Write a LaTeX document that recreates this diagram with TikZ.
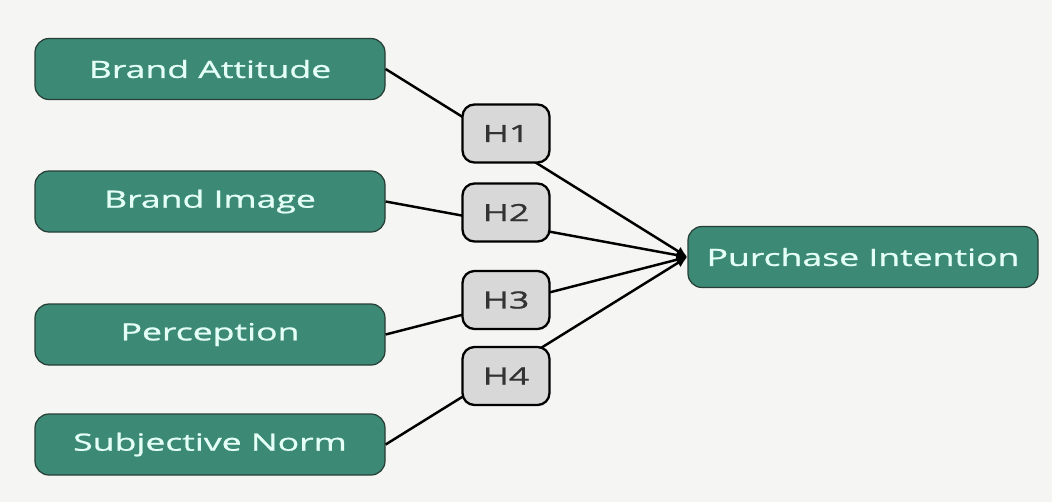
\documentclass[tikz,border=0pt]{standalone}
\usepackage{fontspec}
\setmainfont[FakeStretch=1.5,FakeBold=1]{Open Sans}
\usetikzlibrary{arrows.meta}
\definecolor{boxgreen}{RGB}{60,137,117}
\definecolor{boxedge}{RGB}{38,62,54}
\definecolor{boxtext}{RGB}{228,255,246}
\definecolor{hypgrey}{RGB}{216,216,216}
\definecolor{bgcol}{RGB}{245,246,243}

\begin{document}
\begin{tikzpicture}[
  factor/.style={draw=boxedge, line width=0.7pt, fill=boxgreen, rounded corners=0.28cm,
    minimum width=7cm, minimum height=1.22cm, text=boxtext, font=\fontsize{13.5}{15}\selectfont},
  hyp/.style={draw=black, line width=1.3pt, fill=hypgrey, rounded corners=0.24cm,
    minimum width=1.74cm, minimum height=1.16cm, text=black!80, font=\fontsize{13.5}{15}\selectfont},
  link/.style={line width=1.4pt, -{Latex[length=2.2mm,width=2mm]}}
]

% Canvas
\fill[bgcol] (0,0) rectangle (21.04,-10.04);
\useasboundingbox (0,0) rectangle (21.04,-10.04);

% Nodes
\node[factor] (v0) at (4.2,-1.38) {Brand Attitude};
\node[factor] (v1) at (4.2,-4.03) {Brand Image};
\node[factor] (v2) at (4.2,-6.69) {Perception};
\node[factor] (v3) at (4.2,-8.89) {Subjective Norm};
\node[factor] (v4) at (17.26,-5.14) {Purchase Intention};

% Arrows
\draw[link] (v0.east) -- (v4.west);
\draw[link] (v1.east) -- (v4.west);
\draw[link] (v2.east) -- (v4.west);
\draw[link] (v3.east) -- (v4.west);

% Hypotheses
\node[hyp] (h1) at (10.12,-2.67) {H1};
\node[hyp] (h2) at (10.12,-4.25) {H2};
\node[hyp] (h3) at (10.12,-6.0) {H3};
\node[hyp] (h4) at (10.12,-7.52) {H4};

\end{tikzpicture}
\end{document}
